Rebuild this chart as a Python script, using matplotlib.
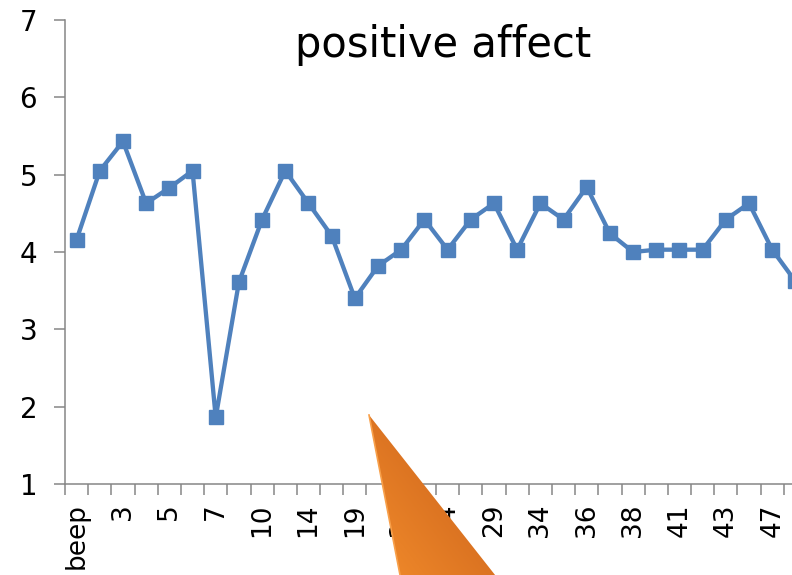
import numpy as np
import matplotlib
matplotlib.use("Agg")
import matplotlib.pyplot as plt
from matplotlib.patches import Polygon

# positive affect per beep
values = [4.16, 5.05, 5.43, 4.63, 4.83, 5.05, 1.86, 3.61, 4.42, 5.05,
          4.63, 4.21, 3.40, 3.82, 4.03, 4.42, 4.03, 4.42, 4.63, 4.03,
          4.63, 4.42, 4.84, 4.24, 4.00, 4.03, 4.03, 4.03, 4.42, 4.63,
          4.03, 3.62]
# only every second category label is shown on the axis
shown_pos = [0, 2, 4, 6, 8, 10, 12, 14, 16, 18, 20, 22, 24, 26, 28, 30]
shown_labels = ["beep", "3", "5", "7", "10", "14", "19", "21", "24", "29",
                "34", "36", "38", "41", "43", "47"]
y_ticks = [1, 2, 3, 4, 5, 6, 7]

blue = "#4F81BD"
grey = "#868686"

plt.rcParams['font.family'] = ['DejaVu Sans']

fig = plt.figure(figsize=(7.92, 5.75), dpi=100)
W, H = 792, 575
# plot area runs past the right edge of the picture (it was cropped)
ax = fig.add_axes([65 / W, 91 / H, 742 / W, 464 / H])

x = np.arange(len(values))
ax.plot(x, values, color=blue, lw=3.1, marker="s", ms=9.5,
        mec=blue, mfc=blue, clip_on=False)

ax.set_xlim(-0.5, len(values) - 0.5)
ax.set_ylim(1, 7)

for s in ["top", "right"]:
    ax.spines[s].set_visible(False)
for s in ["left", "bottom"]:
    ax.spines[s].set_color(grey)
    ax.spines[s].set_linewidth(1.1)

ax.set_yticks(y_ticks)
ax.set_yticklabels([str(v) for v in y_ticks], fontsize=20)
ax.tick_params(axis="y", length=8, width=1.1, color=grey, pad=12)

ax.set_xticks(shown_pos)
ax.set_xticklabels(shown_labels, rotation=90, fontsize=19)
ax.set_xticks(np.arange(-0.5, len(values)), minor=True)
ax.tick_params(axis="x", which="major", length=0, pad=14)
ax.tick_params(axis="x", which="minor", length=8, width=1.1, color=grey)

fig.text(443 / W, 1 - 57 / H, "positive affect", fontsize=30,
         ha="center", va="baseline")

# orange callout tail drawn over the chart
ov = fig.add_axes([0, 0, 1, 1])
ov.set_xlim(0, W)
ov.set_ylim(H, 0)
ov.axis("off")
ov.patch.set_alpha(0)
tri = Polygon([(369, 415), (401, 580), (499, 580)], closed=True,
              facecolor="none", edgecolor="none")
ov.add_patch(tri)
gx, gy = np.meshgrid(np.linspace(0, 1, 200), np.linspace(0, 1, 200))
grad = (gx * 0.8 + (1 - gy) * 0.7)
cmap = matplotlib.colors.LinearSegmentedColormap.from_list(
    "org", ["#F48E2C", "#DC7422", "#C8621C"])
im = ov.imshow(grad, cmap=cmap, extent=(360, 505, 580, 410),
               aspect="auto", interpolation="bilinear")
im.set_clip_path(tri)
ov.plot([369, 401], [415, 580], color="#F8A04A", lw=1.2)

fig.savefig("out.png", dpi=100)
